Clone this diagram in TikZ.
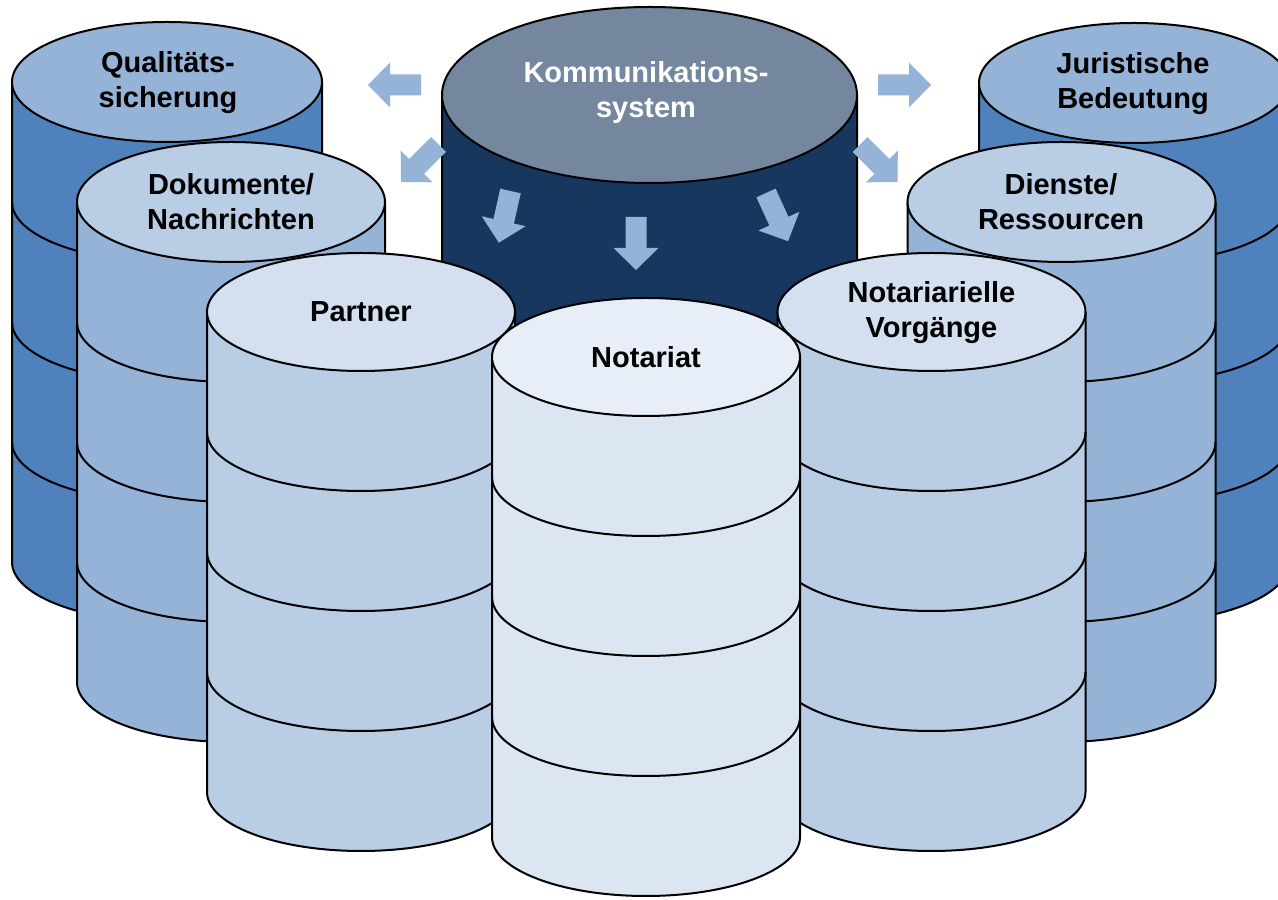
\documentclass[tikz,border=0pt]{standalone}
\usepackage{fontspec}
\setmainfont{Liberation Sans}
\definecolor{cDark}{HTML}{4F81BD}
\definecolor{cMid}{HTML}{95B3D7}
\definecolor{cLight}{HTML}{B9CDE5}
\definecolor{cPale}{HTML}{D4E0EF}
\definecolor{cPaler}{HTML}{DCE6F2}
\definecolor{cPalest}{HTML}{E7EEF7}
\definecolor{cNavy}{HTML}{17375E}
\definecolor{cSlate}{HTML}{74879F}
\definecolor{cArrow}{HTML}{95B3D7}
\tikzset{
  cylline/.style={draw=black, line width=2pt, line join=round},
  lbl/.style={font=\bfseries\fontsize{29}{35}\selectfont, align=center, text=black, inner sep=0pt},
  lblw/.style={lbl, text=white},
  arrowfill/.style={fill=cArrow, draw=none},
}
% #1 cx, #2 cy (screen), #3 rx, #4 ry, #5 number of bands, #6 band height, #7 body colour, #8 top colour
\newcommand\drumcyl[8]{%
  \pgfmathsetmacro\cyY{900-#2}%
  \pgfmathsetmacro\cyB{900-#2-#5*#6}%
  \filldraw[cylline, fill=#7] (#1-#3,\cyY) -- (#1-#3,\cyB)
     arc[start angle=180, end angle=360, x radius=#3pt, y radius=#4pt]
     -- (#1+#3,\cyY) -- cycle;
  \pgfmathtruncatemacro\cyN{#5-1}%
  \ifnum\cyN>0
    \foreach \k in {1,...,\cyN}{%
      \draw[cylline] (#1-#3,{900-#2-\k*#6})
        arc[start angle=180, end angle=360, x radius=#3pt, y radius=#4pt];
    }%
  \fi
  \filldraw[cylline, fill=#8] (#1,\cyY) ellipse[x radius=#3pt, y radius=#4pt];
}
% #1 tail x, #2 tail y (screen), #3 angle
\newcommand\blockarrow[3]{%
  \fill[arrowfill, shift={(#1,900-#2)}, rotate=#3]
    (0,-10.5) -- (31,-10.5) -- (31,-22.5) -- (53,0) -- (31,22.5) -- (31,10.5) -- (0,10.5) -- cycle;
}
\begin{document}
\begin{tikzpicture}[x=1pt,y=1pt]
\useasboundingbox (0,0) rectangle (1278,900);
\clip (0,0) rectangle (1278,900);
\fill[white] (0,0) rectangle (1278,900);

% back row
\drumcyl{167}{82}{155}{60}{4}{120}{cDark}{cMid}
\node[lbl] (qs) at (168,{900-83}) {Qualitäts-\\sicherung};
\drumcyl{1134}{83}{155}{60}{4}{120}{cDark}{cMid}
\node[lbl] (jb) at (1133,{900-84}) {Juristische\\Bedeutung};

% communication system
\drumcyl{649.5}{95}{207.5}{88}{1}{280}{cNavy}{cSlate}
\node[lblw] (ks) at (646,{900-93}) {Kommunikations-\\system};

% second row
\drumcyl{231}{202}{154}{60}{4}{120}{cMid}{cLight}
\node[lbl] (dn) at (231,{900-202}) {Dokumente/\\Nachrichten};
\drumcyl{1061.5}{202}{154}{60}{4}{120}{cMid}{cLight}
\node[lbl] (dr) at (1061,{900-202}) {Dienste/\\Ressourcen};

% third row
\drumcyl{361}{312}{154}{59}{4}{120}{cLight}{cPale}
\node[lbl] (pa) at (361,{900-312}) {Partner};
\drumcyl{931.5}{312}{154}{59}{4}{120}{cLight}{cPale}
\node[lbl] (nv) at (931.5,{900-313}) {Notariarielle\\Vorgänge};

% front
\drumcyl{646}{357}{154}{59}{4}{120}{cPaler}{cPalest}
\node[lbl] (no) at (646,{900-357}) {Notariat};

% arrows
\blockarrow{421}{85}{180}
\blockarrow{878}{85}{0}
\blockarrow{438.5}{144.5}{225}
\blockarrow{860}{144.5}{315}
\blockarrow{510.5}{191}{257.3}
\blockarrow{636}{217}{270}
\blockarrow{766}{193}{294.6}
\end{tikzpicture}
\end{document}
